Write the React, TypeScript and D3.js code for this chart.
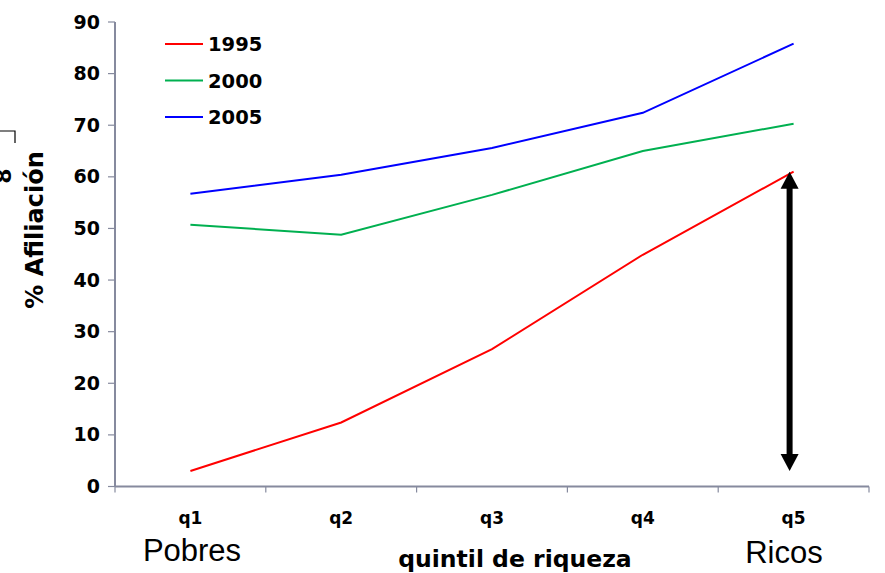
import React, { useEffect, useRef } from 'react';
import * as d3 from 'd3';

const quintiles = ['q1', 'q2', 'q3', 'q4', 'q5'];
const years = ['1995', '2000', '2005'];
const values1995 = [3.0, 12.4, 26.6, 44.9, 61.0];
const values2000 = [50.7, 48.8, 56.5, 65.0, 70.3];
const values2005 = [56.7, 60.4, 65.6, 72.4, 85.8];
const yTicks = [0, 10, 20, 30, 40, 50, 60, 70, 80, 90];
const arrowRange = [3, 61];

const W = 885;
const H = 573;
const colors = ['#ff0000', '#00b050', '#0000ff'];
const axisColor = '#868a9e';
const font = '"DejaVu Sans", Verdana, sans-serif';

const App = () => {
    const ref = useRef(null);

    useEffect(() => {
        const svg = d3.select(ref.current);
        svg.selectAll('*').remove();

        const x = d3.scaleBand().domain(quintiles).range([115, 869]);
        const y = d3.scaleLinear().domain([0, 90]).range([486.5, 22]);
        const cx = (q) => x(q) + x.bandwidth() / 2;

        // y axis
        svg.append('line')
            .attr('x1', 115).attr('x2', 115)
            .attr('y1', y(90)).attr('y2', y(0))
            .attr('stroke', axisColor).attr('stroke-width', 2);
        yTicks.forEach(t => {
            svg.append('line')
                .attr('x1', 108).attr('x2', 115)
                .attr('y1', y(t)).attr('y2', y(t))
                .attr('stroke', axisColor).attr('stroke-width', 1.2);
            svg.append('text')
                .attr('x', 100).attr('y', y(t) + 6.5)
                .attr('text-anchor', 'end')
                .style('font-family', font).style('font-weight', 'bold').style('font-size', '19px')
                .text(t);
        });

        // x axis
        svg.append('line')
            .attr('x1', 115).attr('x2', 869)
            .attr('y1', y(0)).attr('y2', y(0))
            .attr('stroke', axisColor).attr('stroke-width', 2);
        const edges = quintiles.map(q => x(q)).concat([869]);
        edges.forEach(e => {
            svg.append('line')
                .attr('x1', e).attr('x2', e)
                .attr('y1', y(0)).attr('y2', y(0) + 6)
                .attr('stroke', axisColor).attr('stroke-width', 1.2);
        });
        quintiles.forEach(q => {
            svg.append('text')
                .attr('x', cx(q)).attr('y', 524)
                .attr('text-anchor', 'middle')
                .style('font-family', font).style('font-weight', 'bold').style('font-size', '17px')
                .text(q);
        });

        // series
        const line = d3.line().x((d, i) => cx(quintiles[i])).y(d => y(d));
        [values1995, values2000, values2005].forEach((vals, i) => {
            svg.append('path')
                .datum(vals)
                .attr('fill', 'none')
                .attr('stroke', colors[i])
                .attr('stroke-width', 2)
                .attr('d', line);
        });

        // legend
        years.forEach((yr, i) => {
            const ly = 44 + i * 36.5;
            svg.append('line')
                .attr('x1', 165).attr('x2', 203)
                .attr('y1', ly).attr('y2', ly)
                .attr('stroke', colors[i]).attr('stroke-width', 2);
            svg.append('text')
                .attr('x', 208).attr('y', ly + 7)
                .style('font-family', font).style('font-weight', 'bold').style('font-size', '19.5px')
                .text(yr);
        });

        // double arrow at q5
        const ax = cx('q5') - 4;
        const yTop = y(arrowRange[1]);
        const yBot = y(arrowRange[0]);
        const head = 17;
        svg.append('line')
            .attr('x1', ax).attr('x2', ax)
            .attr('y1', yTop + head - 2).attr('y2', yBot - head + 2)
            .attr('stroke', '#000').attr('stroke-width', 6);
        svg.append('path')
            .attr('d', `M${ax},${yTop} L${ax - 9},${yTop + head} L${ax + 9},${yTop + head} Z`)
            .attr('fill', '#000');
        svg.append('path')
            .attr('d', `M${ax},${yBot} L${ax - 9},${yBot - head} L${ax + 9},${yBot - head} Z`)
            .attr('fill', '#000');

        // axis titles
        svg.append('text')
            .attr('transform', `translate(43,230) rotate(-90)`)
            .attr('text-anchor', 'middle')
            .style('font-family', font).style('font-weight', 'bold').style('font-size', '24px')
            .text('% Afiliación');
        svg.append('text')
            .attr('x', 515).attr('y', 567)
            .attr('text-anchor', 'middle')
            .style('font-family', font).style('font-weight', 'bold').style('font-size', '23.5px')
            .text('quintil de riqueza');
        svg.append('text')
            .attr('x', 192).attr('y', 561)
            .attr('text-anchor', 'middle')
            .style('font-family', '"Liberation Sans", Arial, sans-serif').style('font-size', '31px')
            .text('Pobres');
        svg.append('text')
            .attr('x', 784).attr('y', 563)
            .attr('text-anchor', 'middle')
            .style('font-family', '"Liberation Sans", Arial, sans-serif').style('font-size', '31px')
            .text('Ricos');

        // cropped fragment at left edge
        svg.append('path')
            .attr('d', 'M0,131 L15,131 L15,143')
            .attr('fill', 'none').attr('stroke', '#000').attr('stroke-width', 1.2);
        svg.append('text')
            .attr('transform', `translate(11,176) rotate(-90)`)
            .attr('text-anchor', 'middle')
            .style('font-family', font).style('font-weight', 'bold').style('font-size', '22px')
            .text('8');
    }, []);

    return (
        <svg ref={ref} width={W} height={H}
            style={{ position: 'absolute', left: 0, top: 0, background: '#fff' }} />
    );
};

export default App;
